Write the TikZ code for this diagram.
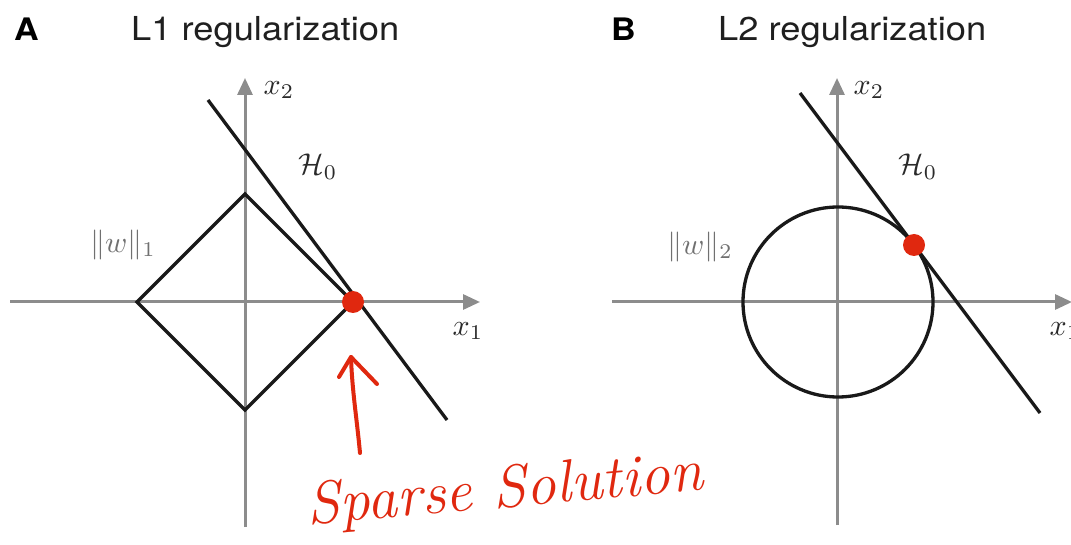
\documentclass[tikz,border=0pt]{standalone}
\usepackage{fontspec}
\setsansfont{TeX Gyre Heros}
\usetikzlibrary{arrows.meta}
\definecolor{axisgray}{HTML}{8C8C8C}
\definecolor{markred}{HTML}{E0280F}
\definecolor{labgray}{HTML}{707070}
\definecolor{labdark}{HTML}{2A2A2A}
\begin{document}
\begin{tikzpicture}[x=1pt,y=-1pt,
  axis/.style={draw=axisgray, line width=3pt, -{Triangle[length=17pt,width=15pt]}},
  curveline/.style={draw=black!90, line width=3.3pt},
  dot/.style={circle, fill=markred, minimum size=22pt, inner sep=0pt},
  mathlab/.style={text=labdark, scale=3, inner sep=0pt},
  normlab/.style={text=labgray, scale=3, inner sep=0pt},
  title/.style={font=\sffamily\fontsize{33}{38}\selectfont, text=black!88, xscale=1.1, anchor=base west, inner sep=0pt},
  panel/.style={font=\sffamily\bfseries\fontsize{31}{36}\selectfont, text=black, xscale=1.1, anchor=base west, inner sep=0pt},
  hand/.style={draw=markred, line width=4pt, line cap=round, line join=round},
  handtext/.style={text=markred, font=\itshape\fontsize{60}{66}\selectfont, rotate=5, inner sep=0pt}
]
\useasboundingbox (0,0) rectangle (1071,545);
\fill[white] (0,0) rectangle (1071,545);

% ---------- Panel A ----------
\node[panel] (pA) at (14,41) {A};
\node[title] (tA) at (131,41) {L1 regularization};

\coordinate (AxL) at (10,302);
\coordinate (AxR) at (480,302);
\coordinate (AyB) at (245,527);
\coordinate (AyT) at (245,78);
\draw[axis] (AxL) -- (AxR);
\draw[axis] (AyB) -- (AyT);

\coordinate (Dl) at (137,302);
\coordinate (Dt) at (245,194);
\coordinate (Dr) at (353,302);
\coordinate (Db) at (245,410);
\draw[curveline, line join=miter] (Dl) -- (Dt) -- (Dr) -- (Db) -- cycle;

\coordinate (Ha) at (208,100);
\coordinate (Hb) at (447,420);
\draw[curveline] (Ha) -- (Hb);

\node[dot] (SA) at (353,302) {};

\node[mathlab] (x2A) at (279,90) {$x_2$};
\node[mathlab] (H0A) at (318,167) {$\mathcal{H}_0$};
\node[normlab] (wA) at (123,245) {$\|w\|_1$};
\node[mathlab] (x1A) at (468,331) {$x_1$};

% hand-drawn arrow and note
\coordinate (arB) at (360,453);
\coordinate (arT) at (351,357);
\coordinate (arL) at (339,377);
\coordinate (arR) at (377,384);
\draw[hand] (arB) .. controls (357,420) and (352,390) .. (arT);
\draw[hand] (arL) -- (arT) -- (arR);
\node[handtext] (sol) at (505,492) {Sparse Solution};

% ---------- Panel B ----------
\node[panel] (pB) at (611,41) {B};
\node[title] (tB) at (718,41) {L2 regularization};

\coordinate (BxL) at (612,302);
\coordinate (BxR) at (1072,302);
\coordinate (ByB) at (837,525);
\coordinate (ByT) at (837,78);
\draw[axis] (BxL) -- (BxR);
\draw[axis] (ByB) -- (ByT);

\coordinate (Cc) at (838,302);
\draw[curveline] (Cc) circle[radius=95];

\coordinate (Hc) at (800,93);
\coordinate (Hd) at (1040,413);
\draw[curveline] (Hc) -- (Hd);

\node[dot] (SB) at (914,245) {};

\node[mathlab] (x2B) at (869,90) {$x_2$};
\node[mathlab] (H0B) at (918,167) {$\mathcal{H}_0$};
\node[normlab] (wB) at (700,247) {$\|w\|_2$};
\node[mathlab] (x1B) at (1065,331) {$x_1$};
\end{tikzpicture}
\end{document}
